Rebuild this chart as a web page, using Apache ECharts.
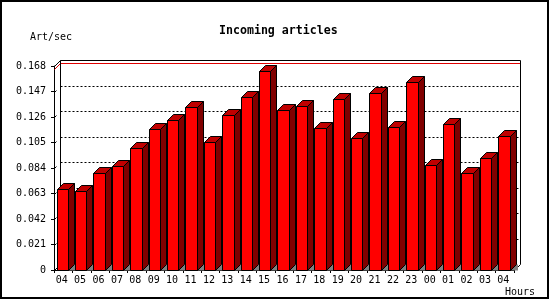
<!DOCTYPE html>
<html><head><meta charset="utf-8">
<script src="https://cdn.jsdelivr.net/npm/echarts@6/dist/echarts.min.js"></script>
<style>html,body{margin:0;padding:0;background:#fff}#c{width:550px;height:300px}</style>
</head><body><div id="c"></div>
<script>
const hours = ['04','05','06','07','08','09','10','11','12','13','14','15','16','17','18','19','20','21','22','23','00','01','02','03','04'];
const artPerSec = [0.0667,0.0648,0.0796,0.0856,0.1002,0.1159,0.1233,0.1342,0.1051,0.1274,0.1422,0.1641,0.1315,0.1348,0.1167,0.1405,0.1084,0.1455,0.1178,0.1545,0.0862,0.1200,0.0801,0.0920,0.1101];
const yTicks = [0,0.021,0.042,0.063,0.084,0.105,0.126,0.147,0.168];
const peakValue = 0.1655;
const titleText = 'Incoming articles';
const yUnit = 'Art/sec';
const xUnit = 'Hours';

const MONO = 'DejaVu Sans Mono';
const D = 6; // 3D depth in px
const yMax = yTicks[yTicks.length - 1];
const px = v => Math.round(v) + 0.5;

function renderFrame(params, api) {
  const cs = params.coordSys;
  const x0 = Math.round(cs.x) + 0.5, x1 = Math.round(cs.x + cs.width) + 0.5;
  const yb = api.coord([0, 0])[1];
  const yt = api.coord([0, yMax])[1];
  const ch = [];
  const blk = {stroke:'#000', lineWidth:1, fill:null};
  yTicks.forEach(v => {
    if (v === 0 || v === yMax) return;
    const y = px(api.coord([0, v])[1]);
    ch.push({type:'line', shape:{x1:x0 + D, y1:y - D, x2:x1 + D, y2:y - D}, style:{stroke:'#000', lineWidth:1, lineDash:[2,2]}});
    ch.push({type:'line', shape:{x1:x0, y1:y, x2:x0 + 2, y2:y - 2}, style:blk});
  });
  const yp = px(api.coord([0, peakValue])[1]);
  ch.push({type:'polyline', shape:{points:[[x0, yp],[x0 + D, yp - D],[x1 + D, yp - D]]}, style:{stroke:'#e00000', lineWidth:1, fill:null}});
  const ytp = px(yt), ybp = px(yb);
  ch.push({type:'polyline', shape:{points:[[x0, ytp],[x0 + D, ytp - D],[x1 + D, ytp - D],[x1 + D, ybp - D],[x1, ybp]]}, style:blk});
  ch.push({type:'line', shape:{x1:x0 + D, y1:ytp - D, x2:x0 + D, y2:ybp - D}, style:blk});
  ch.push({type:'line', shape:{x1:x0, y1:ybp, x2:x0 + D, y2:ybp - D}, style:blk});
  return {type:'group', children: ch};
}

function renderBar(params, api) {
  const i = api.value(0);
  const top = api.coord([i, api.value(1)]);
  const base = api.coord([i, 0]);
  const bw = api.size([1, 0])[0];
  const L = px(top[0] - bw * 0.36);
  const R = px(top[0] - bw * 0.36 + bw * 0.62);
  const T = px(top[1]);
  const B = px(base[1]);
  const s = {stroke:'#000', lineWidth:1};
  return {type:'group', children:[
    {type:'polygon', shape:{points:[[R, B],[R + D, B - D],[R + D + 1.5, B - D],[R + D + 1.5, B]]}, style:{fill:'#808080'}},
    {type:'polygon', shape:{points:[[R, T],[R + D, T - D],[R + D, B - D],[R, B]]}, style:Object.assign({fill:'#800000'}, s)},
    {type:'polygon', shape:{points:[[L, T],[L + D, T - D],[R + D, T - D],[R, T]]}, style:Object.assign({fill:'#c00000'}, s)},
    {type:'rect', shape:{x:L, y:T, width:R - L, height:B - T}, style:Object.assign({fill:'#ff0000'}, s)}
  ]};
}

const chart = echarts.init(document.getElementById('c'), null, {renderer:'canvas'});
chart.setOption({
  backgroundColor:'#fff',
  animation:false,
  title:{text:titleText, left:214, top:20, textStyle:{fontFamily:MONO, fontWeight:'bold', fontSize:11.6, color:'#000'}},
  graphic:[
    {type:'rect', shape:{x:1, y:1, width:547, height:297}, style:{fill:null, stroke:'#000', lineWidth:2}, silent:true},
    {type:'text', left:30, top:32, style:{text:yUnit, font:'10px "DejaVu Sans Mono"', fill:'#000'}},
    {type:'text', left:505, top:287, style:{text:xUnit, font:'10px "DejaVu Sans Mono"', fill:'#000'}}
  ],
  grid:{left:54, right:36, top:66, bottom:30, containLabel:false},
  xAxis:{type:'category', data:hours, boundaryGap:true,
    axisLine:{lineStyle:{color:'#000', width:1}},
    axisTick:{show:true, interval:0, length:3, lineStyle:{color:'#000'}},
    axisLabel:{interval:0, margin:5, color:'#000', fontFamily:MONO, fontSize:10, padding:[0,3,0,0]},
    splitLine:{show:false}},
  yAxis:{type:'value', min:0, max:yMax, interval:0.021,
    axisLine:{show:true, lineStyle:{color:'#000', width:1}},
    axisTick:{show:true, length:3, lineStyle:{color:'#000'}},
    axisLabel:{margin:8, color:'#000', fontFamily:MONO, fontSize:10, padding:[3,0,0,0],
      formatter: v => (Math.abs(v) < 1e-9 ? '0' : v.toFixed(3))},
    splitLine:{show:false}},
  series:[
    {type:'custom', renderItem:renderFrame, data:[[0, 0]], z:1, silent:true, clip:false},
    {type:'custom', renderItem:renderBar, data:artPerSec.map((v, i) => [i, v]), z:2, silent:true, clip:false}
  ]
});
</script>
</body></html>
